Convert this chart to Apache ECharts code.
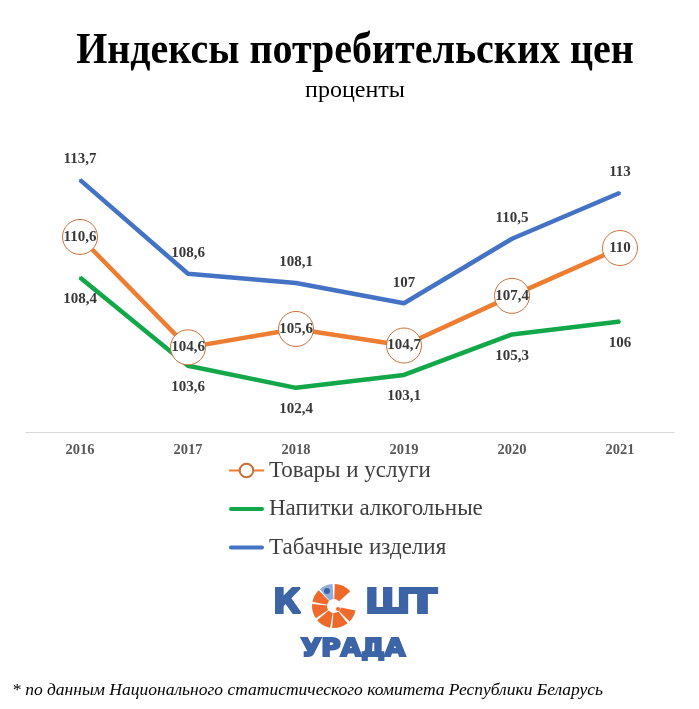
<!DOCTYPE html>
<html><head><meta charset="utf-8">
<script src="https://cdn.jsdelivr.net/npm/echarts@6/dist/echarts.min.js"></script>
<style>html,body{margin:0;padding:0;background:#fff}#c{width:699px;height:709px}</style>
</head><body><div id="c"></div>
<script>
var years = ['2016','2017','2018','2019','2020','2021'];
var goods = [110.6, 104.6, 105.6, 104.7, 107.4, 110];
var alcohol = [108.4, 103.6, 102.4, 103.1, 105.3, 106];
var tobacco = [113.7, 108.6, 108.1, 107, 110.5, 113];
var seriesNames = ['Товары и услуги', 'Напитки алкогольные', 'Табачные изделия'];

var serif = '"Liberation Serif","Times New Roman",serif';
var sans = '"DejaVu Sans",sans-serif';
function fmt(p){ return String(p.value).replace('.', ','); }
var lblStyle = {show:true, formatter:fmt, fontFamily:serif, fontWeight:'bold', fontSize:15, color:'#383838'};

var chart = echarts.init(document.getElementById('c'), null, {renderer:'canvas'});
var cx = 334, cy = 606, r = 22;
var pieces = [];
var slices = [[272,318,'#EE6A2C'],[12,45,'#EE6A2C'],[52,95,'#EE6A2C'],[100,140,'#EE6A2C'],[146,185,'#EE6A2C'],[191,226,'#EE6A2C'],[230,266,'#8FAEDB']];
slices.forEach(function(a){
  var s = a[0]*Math.PI/180, e = a[1]*Math.PI/180;
  if (e < s) e += Math.PI*2;
  pieces.push({type:'sector', shape:{cx:cx, cy:cy, r:r, r0:7, startAngle:s, endAngle:e}, style:{fill:a[2]}});
});
pieces.push({type:'circle', shape:{cx:cx-7, cy:cy-15, r:3}, style:{fill:'#3C64A6'}});
pieces.push({type:'circle', shape:{cx:cx+4, cy:cy+3, r:2}, style:{fill:'#EE6A2C'}});

var lineIcon = 'path://M2,0 L34,0 A2,2 0 0 1 34,4 L2,4 A2,2 0 0 1 2,0 Z';
var logoBlue = '#3C64A6';
function logoText(t, x, y, size, sx){
  return {type:'text', x:x, y:y, scaleX:sx, style:{text:t, fontFamily:sans, fontWeight:'bold', fontSize:size, fill:logoBlue, stroke:logoBlue, lineWidth:2.2}};
}

chart.setOption({
  backgroundColor:'#fff',
  animation:false,
  color:['#ED7D31','#12A84A','#4472C4'],
  grid:{left:26, right:25, top:156, height:276},
  xAxis:{type:'category', data:years, boundaryGap:true,
    axisLine:{lineStyle:{color:'#D9D9D9', width:1}}, axisTick:{show:false},
    axisLabel:{fontFamily:serif, fontWeight:'bold', fontSize:14.5, color:'#595959', margin:11}},
  yAxis:{type:'value', min:100, max:115, show:false, splitLine:{show:false}},
  legend:{orient:'vertical', left:228, top:459, padding:0, itemGap:15.5, itemWidth:35, itemHeight:17,
    data:[
      {name:seriesNames[0]},
      {name:seriesNames[1], icon:lineIcon},
      {name:seriesNames[2], icon:lineIcon}
    ],
    textStyle:{fontFamily:serif, fontSize:23, color:'#404040'}},
  series:[
    {name:seriesNames[0], type:'line', data:goods, symbol:'circle', symbolSize:35, showAllSymbol:true,
      lineStyle:{width:4.5, color:'#ED7D31'},
      itemStyle:{color:'#fff', borderColor:'#C9713A', borderWidth:1},
      label:Object.assign({position:'inside'}, lblStyle), z:3},
    {name:seriesNames[1], type:'line', data:alcohol, symbol:'circle', symbolSize:2,
      lineStyle:{width:4.5, color:'#12A84A'}, itemStyle:{color:'#12A84A'},
      label:Object.assign({position:'bottom', distance:13}, lblStyle)},
    {name:seriesNames[2], type:'line', data:tobacco, symbol:'circle', symbolSize:2,
      lineStyle:{width:4.5, color:'#4472C4'}, itemStyle:{color:'#4472C4'},
      label:Object.assign({position:'top', distance:12}, lblStyle)}
  ],
  graphic:[
    {type:'text', x:355, y:52, scaleY:1.1, style:{text:'Индексы потребительских цен', fontFamily:serif, fontWeight:'bold', fontSize:40, fill:'#000', align:'center', verticalAlign:'middle'}},
    {type:'text', x:355, y:91, style:{text:'проценты', fontFamily:serif, fontSize:24, fill:'#000', align:'center', verticalAlign:'middle'}},
    logoText('К', 273, 587, 34, 1),
    logoText('Ш', 365, 587, 34, 1.08),
    logoText('Т', 408, 587, 34, 1.25),
    logoText('УРАДА', 301, 638, 24, 1.1),
    {type:'group', children:pieces},
    {type:'text', x:12, y:690, style:{text:'* по данным Национального статистического комитета Республики Беларусь', fontFamily:serif, fontStyle:'italic', fontSize:17.5, fill:'#000', verticalAlign:'middle'}}
  ]
});
</script></body></html>
